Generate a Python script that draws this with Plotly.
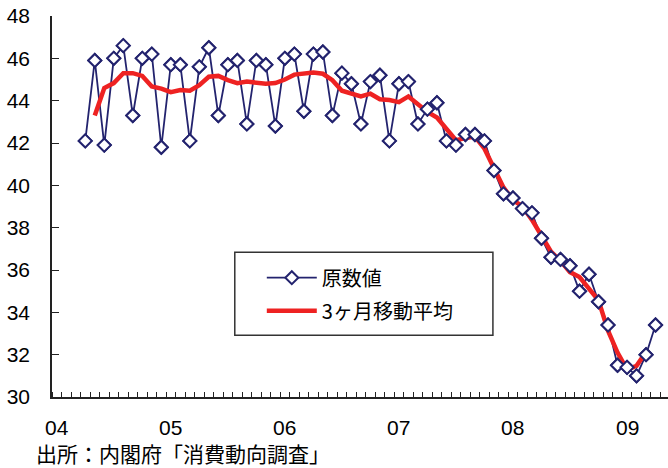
import pandas as pd
import plotly.graph_objects as go

# Monthly consumer confidence (original values), Apr 2004 - Apr 2009
raw_start = "2004-04"
raw_values = [
    42.1, 45.9, 41.9, 46.0, 46.6, 43.3, 46.0, 46.2, 41.8,
    45.7, 45.7, 42.1, 45.6, 46.5, 43.3, 45.7, 45.9, 42.9, 45.9, 45.7, 42.8,
    46.0, 46.2, 43.5, 46.2, 46.3, 43.3, 45.3, 44.8, 42.9, 44.9, 45.2, 42.1,
    44.8, 44.9, 42.9, 43.6, 43.9, 42.1, 41.9, 42.4, 42.4, 42.1, 40.7, 39.6,
    39.4, 38.9, 38.7, 37.5, 36.6, 36.5, 36.2, 35.0, 35.8, 34.5, 33.4, 31.5,
    31.4, 31.0, 32.0, 33.4,
]

# Centred 3-month moving average, May 2004 - Mar 2009
ma_start = "2004-05"
ma_values = [
    43.30, 44.60, 44.83, 45.30, 45.30, 45.17, 44.67, 44.57,
    44.40, 44.50, 44.47, 44.73, 45.13, 45.17, 44.97, 44.83, 44.90, 44.83, 44.80, 44.83,
    45.00, 45.23, 45.30, 45.33, 45.27, 44.97, 44.47, 44.33, 44.20, 44.33, 44.07, 44.03,
    43.93, 44.20, 43.80, 43.47, 43.20, 42.63, 42.13, 42.23, 42.30, 41.73, 40.80, 39.90,
    39.30, 39.00, 38.37, 37.60, 36.87, 36.43, 35.90, 35.67, 35.10, 34.57, 33.13, 32.10,
    31.30, 31.47, 32.13,
]

year_labels = ["04", "05", "06", "07", "08", "09"]
series_names = ["原数値", "3ヶ月移動平均"]
source_text = "出所：内閣府「消費動向調査」"


def month_index(start, n):
    """Months since Jan 2004 for n consecutive months from start."""
    p = pd.Period(start, freq="M")
    base = pd.Period("2004-01", freq="M")
    first = (p - base).n
    return [first + i for i in range(n)]


x_raw = month_index(raw_start, len(raw_values))
x_ma = month_index(ma_start, len(ma_values))
year_ticks = [12 * i for i in range(len(year_labels))]

NAVY = "#23236e"
RED = "#ee2222"
NUM_FONT = "Liberation Sans Narrow, Arial Narrow, Liberation Sans, Noto Sans CJK JP"
CJK_FONT = "Noto Sans CJK JP, sans-serif"

fig = go.Figure()

fig.add_trace(go.Scatter(
    x=x_raw, y=raw_values, mode="lines+markers", name=series_names[0],
    legendgroup="a",
    line=dict(color=NAVY, width=1.8),
    marker=dict(symbol="diamond", size=10, color="white",
                line=dict(color=NAVY, width=2)),
))
fig.add_trace(go.Scatter(
    x=x_ma, y=ma_values, mode="lines", name=series_names[1],
    legendgroup="b",
    line=dict(color=RED, width=4.5),
))
# markers redrawn above the average line
fig.add_trace(go.Scatter(
    x=x_raw, y=raw_values, mode="markers", showlegend=False,
    marker=dict(symbol="diamond", size=10, color="white",
                line=dict(color=NAVY, width=2)),
    hoverinfo="skip",
))

L, T = 52.3, 16.0
W, H = 668, 468
plot_w = W - L
plot_h = 396.7 - T


def px_x(px):
    return (px - L) / plot_w


def px_y(py):
    return (396.7 - py) / plot_h


# legend frame
fig.add_shape(type="rect", xref="paper", yref="paper",
              x0=px_x(235), x1=px_x(493), y0=px_y(335), y1=px_y(252),
              line=dict(color="#333333", width=1.5), fillcolor="white", layer="below")

# year labels under the monthly ticks
for xv, lab in zip(year_ticks, year_labels):
    fig.add_annotation(text=lab, xref="x", yref="paper", x=xv, y=px_y(427),
                       xanchor="center", yanchor="middle", showarrow=False,
                       height=20, valign="middle",
                       font=dict(family=NUM_FONT, size=21, color="black"))

fig.add_annotation(text=source_text, xref="paper", yref="paper",
                   x=px_x(34), y=px_y(453), xanchor="left", yanchor="middle",
                   showarrow=False,
                   font=dict(family="Noto Sans CJK JP", size=21, color="black"))

fig.update_layout(
    width=W, height=H,
    margin=dict(l=L, r=0, t=T, b=H - 396.7),
    paper_bgcolor="white", plot_bgcolor="white",
    showlegend=True,
    legend=dict(x=px_x(262), y=px_y(258), xanchor="left", yanchor="top",
                bgcolor="rgba(0,0,0,0)", borderwidth=0,
                font=dict(family=CJK_FONT, size=20, color="black"),
                itemwidth=50, tracegroupgap=4),
    xaxis=dict(range=[-0.5, -0.5 + plot_w / 9.5], showgrid=False, zeroline=False,
               showline=True, linecolor="#222222", linewidth=1.5,
               showticklabels=False, ticks="",
               minor=dict(tick0=-0.5, dtick=1, ticks="inside", ticklen=5,
                          tickcolor="#222222", tickwidth=1)),
    yaxis=dict(range=[30, 48], dtick=2, showgrid=False, zeroline=False,
               showline=True, linecolor="#222222", linewidth=1.5,
               ticks="inside", ticklen=7, tickcolor="#222222", tickwidth=1,
               ticklabelstandoff=16,
               tickfont=dict(family=NUM_FONT, size=21, color="black")),
)

fig.write_html("out.html")
